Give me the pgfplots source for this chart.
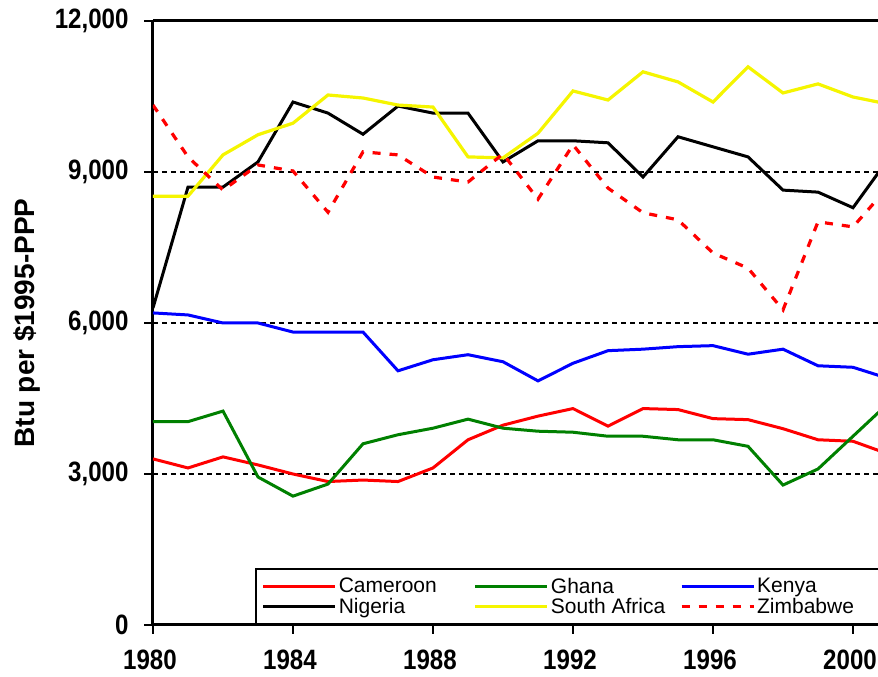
\documentclass[border=0pt]{standalone}
\usepackage{fontspec}
\setmainfont{Liberation Sans}
\newfontfamily\ticknarrow[FakeStretch=0.86]{Liberation Sans}
\usepackage{pgfplots}
\pgfplotsset{compat=1.18}
\definecolor{cRed}{RGB}{255,0,0}
\definecolor{cGreen}{RGB}{0,128,0}
\definecolor{cBlue}{RGB}{0,0,255}
\definecolor{cYellow}{RGB}{245,245,0}
\begin{document}
\begin{tikzpicture}
\begin{axis}[
  at={(0pt,0pt)}, anchor=south west,
  scale only axis, width=725pt, height=604pt,
  xmin=1980, xmax=2000.714, ymin=0, ymax=12000,
  clip mode=individual,
  axis x line*=bottom, axis y line*=left,
  axis line style={-, line width=3pt, black},
  xtick={1980,1984,...,2000}, minor x tick num=3,
  ytick={0,3000,6000,9000,12000},
  scaled y ticks=false,
  tick align=outside, major tick length=9pt, minor tick length=9pt,
  every tick/.style={black, line width=2pt},
  /pgf/number format/assume math mode=true,
  x tick label style={/pgf/number format/1000 sep={}, font=\ticknarrow\fontsize{28}{32}\selectfont\bfseries, yshift=-12pt, xshift=-3pt},
  y tick label style={/pgf/number format/1000 sep={,}, font=\ticknarrow\fontsize{28}{32}\selectfont\bfseries, xshift=-12pt},
  ymajorgrids, grid style={black, line width=1.5pt, dash pattern=on 5pt off 4pt},
  ylabel={Btu per \$1995-PPP},
  ylabel style={font=\fontsize{28}{32}\selectfont\bfseries, at={(axis description cs:-0.1628,0.5)}, rotate=0, anchor=base},
  legend columns=3,
  legend cell align=left,
  legend image code/.code={\draw[#1] (0pt,0pt) -- (72pt,0pt);},
  legend style={at={(rel axis cs:0.1407,0)}, anchor=south west, draw=black, line width=1.5pt,
    font=\fontsize{21}{24}\selectfont, inner xsep=6pt, inner ysep=7pt,
    nodes={inner sep=2pt}, row sep=0pt},
]
\addplot[cRed, line width=3pt] coordinates {
(1980,3300) (1981,3120) (1982,3340) (1983,3180) (1984,3000) (1985,2850) (1986,2880) (1987,2850) (1988,3120) (1989,3680) (1990,3970) (1991,4150) (1992,4300) (1993,3950) (1994,4300) (1995,4280) (1996,4100) (1997,4080) (1998,3900) (1999,3680) (2000,3650) (2001,3400)};
\addlegendentry{\makebox[133pt][l]{Cameroon}}
\addplot[cGreen, line width=3pt] coordinates {
(1980,4040) (1981,4040) (1982,4250) (1983,2940) (1984,2560) (1985,2800) (1986,3600) (1987,3780) (1988,3910) (1989,4090) (1990,3910) (1991,3850) (1992,3830) (1993,3750) (1994,3750) (1995,3680) (1996,3680) (1997,3550) (1998,2780) (1999,3100) (2000,3750) (2001,4400)};
\addlegendentry{\makebox[127pt][l]{Ghana}}
\addplot[cBlue, line width=3pt] coordinates {
(1980,6200) (1981,6160) (1982,6000) (1983,6000) (1984,5820) (1985,5820) (1986,5820) (1987,5050) (1988,5270) (1989,5370) (1990,5230) (1991,4850) (1992,5200) (1993,5450) (1994,5480) (1995,5530) (1996,5550) (1997,5380) (1998,5480) (1999,5150) (2000,5120) (2001,4900)};
\addlegendentry{\makebox[120pt][l]{Kenya}}
\addplot[black, line width=3pt] coordinates {
(1980,6300) (1981,8700) (1982,8700) (1983,9200) (1984,10390) (1985,10170) (1986,9750) (1987,10310) (1988,10170) (1989,10170) (1990,9200) (1991,9620) (1992,9620) (1993,9580) (1994,8900) (1995,9700) (1996,9500) (1997,9300) (1998,8640) (1999,8600) (2000,8290) (2001,9250)};
\addlegendentry{Nigeria}
\addplot[cYellow, line width=3.2pt] coordinates {
(1980,8520) (1981,8520) (1982,9340) (1983,9740) (1984,9970) (1985,10530) (1986,10470) (1987,10330) (1988,10290) (1989,9300) (1990,9280) (1991,9770) (1992,10610) (1993,10430) (1994,10990) (1995,10790) (1996,10390) (1997,11090) (1998,10570) (1999,10750) (2000,10490) (2001,10350)};
\addlegendentry{South Africa}
\addplot[cRed, line width=3.2pt, dash pattern=on 8pt off 9pt] coordinates {
(1980,10330) (1981,9300) (1982,8640) (1983,9140) (1984,9020) (1985,8200) (1986,9400) (1987,9340) (1988,8900) (1989,8800) (1990,9360) (1991,8460) (1992,9540) (1993,8680) (1994,8190) (1995,8050) (1996,7390) (1997,7090) (1998,6260) (1999,8010) (2000,7910) (2001,8700)};
\addlegendentry{Zimbabwe}
\draw[line width=3pt, black] (rel axis cs:0,1) -- (rel axis cs:1,1);
\end{axis}
\pgfresetboundingbox
\path[use as bounding box] (-153pt,-52pt) rectangle (725pt,625pt);
\end{tikzpicture}
\end{document}
